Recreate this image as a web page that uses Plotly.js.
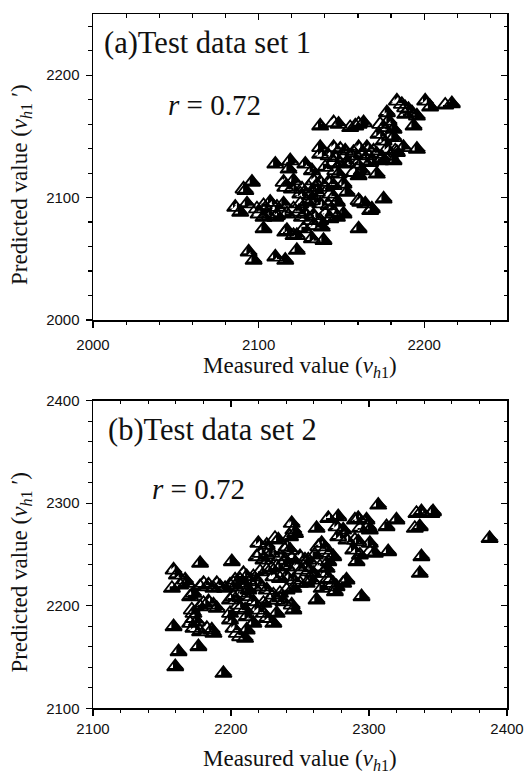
<!DOCTYPE html>
<html><head><meta charset="utf-8">
<script src="https://cdn.plot.ly/plotly-3.0.1.min.js"></script>
<style>html,body{margin:0;padding:0;background:#fff;}#chart{width:528px;height:777px;}</style>
</head><body><div id="chart"></div>
<script>
// ---------- data (a) Test data set 1 ----------
const xA = [2183.5,2186.5,2200.6,2203.6,2212.7,2216.7,
2177.5,2188.5,2190.5,2192.6,2195.6,2188.5,
2137.2,2145.3,2148.3,2155.3,2158.4,2160.4,2163.4,2173.4,2175.5,2178.5,2181.5,2193.6,
2172.4,2179.5,2181.5,2175.5,
2137.2,2145.3,2149.3,2152.3,2157.3,2160.4,2165.4,2169.4,2177.5,2182.5,2187.5,2195.6,2137.2,2142.3,2146.3,2151.3,2156.3,2162.4,2166.4,2171.4,2174.5,2179.5,2183.5,
2110.1,2119.1,2128.2,2145.3,2149.3,2153.3,2159.4,2163.4,2167.4,2173.4,2181.5,
2118.1,2132.2,2140.2,2146.3,2148.3,2157.3,2160.4,2162.4,2171.4,
2096.0,2115.1,2121.1,2133.2,2137.2,2142.3,2145.3,2151.3,2090.9,2116.1,2120.1,2126.2,2130.2,2134.2,2140.2,
2092.0,2125.2,2131.2,2135.2,2143.3,2153.3,2145.3,2160.4,2175.5,
2085.9,2093.0,2099.0,2103.0,2107.0,2111.1,2115.1,2121.1,2125.2,2129.2,2132.2,2137.2,2142.3,2147.3,2161.4,2164.4,2088.9,2100.0,2105.0,2111.1,2117.1,2124.1,2128.2,2133.2,2140.2,2145.3,2168.4,2167.4,
2103.0,2110.1,2126.2,2131.2,2137.2,2143.3,2147.3,2151.3,2103.0,2117.1,2123.1,2127.2,2133.2,2138.2,2160.4,
2116.1,2121.1,2132.2,2139.2,2123.1,2094.0,2097.0,2110.1,2116.1];
const yA = [2178.9,2176.2,2178.9,2174.0,2175.6,2176.7,
2169.4,2173.4,2172.1,2169.4,2166.7,2168.0,
2158.5,2161.2,2159.9,2157.2,2158.5,2159.9,2161.2,2159.9,2157.2,2162.6,2155.8,2158.5,
2151.8,2150.4,2149.1,2146.3,
2140.9,2140.9,2139.6,2138.2,2136.9,2140.9,2140.9,2138.2,2139.6,2138.2,2140.9,2139.6,2135.5,2134.1,2132.8,2132.8,2134.1,2135.5,2134.1,2135.5,2132.8,2134.1,2136.9,
2127.4,2130.1,2127.4,2128.7,2127.4,2128.7,2127.4,2130.1,2128.7,2130.1,2130.1,
2123.3,2122.0,2124.7,2122.0,2119.2,2120.6,2117.9,2122.0,2119.2,
2112.5,2112.5,2113.8,2113.8,2112.5,2112.5,2109.8,2111.1,2107.0,2108.4,2107.0,2107.0,2108.4,2108.4,2108.4,
2105.7,2103.0,2101.6,2104.3,2103.0,2104.3,2100.3,2097.6,2098.9,
2092.1,2094.9,2090.8,2093.5,2096.2,2092.1,2094.9,2090.8,2094.9,2096.2,2097.6,2094.9,2093.5,2096.2,2096.2,2094.9,2088.1,2086.7,2086.7,2085.4,2086.7,2088.1,2086.7,2085.4,2086.7,2088.1,2090.8,2089.4,
2084.0,2084.0,2084.0,2081.3,2081.3,2082.7,2084.0,2086.7,2074.5,2073.2,2069.1,2074.5,2077.2,2075.9,2074.5,
2071.8,2069.1,2066.4,2065.0,2056.9,2055.6,2048.8,2051.5,2048.8];

// ---------- data (b) Test data set 2 ----------
const xB = [2306.7,2334.4,2338.0,2346.4,2345.2,2333.2,2336.8,2338.0,2336.8,2387.4,
2319.9,2312.7,2313.9,2270.5,2277.7,2289.8,2292.2,2298.2,2299.4,2293.4,
2300.6,2281.3,2276.5,2262.0,2244.0,2245.2,2246.4,2242.8,2277.7,2283.7,
2289.8,2292.2,2300.6,2300.6,2304.2,2288.6,2293.4,2291.0,2265.7,2263.3,
2268.1,2271.7,2274.1,2270.5,2260.8,2256.0,2254.8,2264.5,2269.3,2266.9,
2270.5,2274.1,2281.3,2275.3,2294.6,2262.0,2265.7,2271.7,2276.5,2283.7,
2219.8,2225.9,2231.9,2234.3,2240.3,2239.1,2242.8,2221.1,2218.6,2223.5,
2225.9,2229.5,2235.5,2239.1,2244.0,2250.0,2253.6,2247.6,2251.2,2256.0,
2259.6,2240.3,2236.7,2233.1,2229.5,2225.9,2221.1,2216.2,2230.7,2235.5,
2240.3,2245.2,2250.0,2254.8,2258.4,2245.2,2240.3,2235.5,2230.7,2225.9,
2222.3,2218.6,2216.2,2212.6,2207.8,2203.0,2201.8,2206.6,2211.4,2216.2,
2223.5,2228.3,2233.1,2237.9,2244.0,2245.2,2218.6,2223.5,2225.9,2230.7,
2233.1,2216.2,
2158.4,2160.8,2166.8,2168.0,2177.6,2200.6,2157.2,2163.2,2170.4,2172.8,
2177.6,2180.1,2183.7,2187.3,2189.7,2192.1,2195.7,2199.3,2203.0,2206.6,
2209.0,2211.4,2212.6,2209.0,2177.6,2180.1,2183.7,2187.3,2189.7,2199.3,
2201.8,2205.4,2206.6,2210.2,2211.4,2199.3,2199.3,2201.8,2204.2,2206.6,
2210.2,2211.4,2171.6,2172.8,2172.8,2175.2,2170.4,2172.8,2177.6,2182.5,
2186.1,2187.3,2158.4,2162.0,2159.6,2176.4,2194.5];
const yB = [2298.2,2290.1,2291.7,2291.7,2290.1,2275.5,2277.1,2247.9,2231.6,2265.7,
2283.6,2277.1,2252.7,2285.2,2286.9,2283.6,2285.2,2283.6,2277.1,2275.5,
2273.9,2273.9,2277.1,2275.5,2280.4,2273.9,2270.6,2267.4,2267.4,2264.1,
2264.1,2262.5,2260.9,2252.7,2251.1,2254.4,2249.5,2243.0,2260.9,2257.6,
2254.4,2251.1,2247.9,2243.0,2249.5,2244.6,2238.1,2238.1,2236.5,2231.6,
2226.7,2221.9,2221.9,2213.7,2208.9,2205.6,2217.0,2225.1,2218.6,2225.1,
2260.9,2259.2,2265.7,2264.1,2257.6,2254.4,2254.4,2251.1,2247.9,2244.6,
2249.5,2251.1,2247.9,2244.6,2246.2,2247.9,2244.6,2238.1,2234.9,2233.2,
2231.6,2238.1,2239.7,2238.1,2236.5,2234.9,2233.2,2228.4,2228.4,2226.7,
2228.4,2225.1,2221.9,2221.9,2225.1,2217.0,2215.4,2212.1,2210.5,2215.4,
2218.6,2223.5,2218.6,2215.4,2220.2,2225.1,2221.9,2212.1,2208.9,2204.0,
2202.4,2205.6,2205.6,2204.0,2200.7,2195.9,2195.9,2192.6,2187.7,2182.9,
2192.6,2182.9,
2234.9,2230.0,2225.1,2221.9,2241.4,2243.0,2217.0,2220.2,2208.9,2212.1,
2218.6,2221.9,2220.2,2217.0,2221.9,2218.6,2217.0,2220.2,2218.6,2225.1,
2231.6,2228.4,2225.1,2221.9,2199.1,2202.4,2204.0,2200.7,2197.5,2205.6,
2208.9,2200.7,2197.5,2195.9,2189.4,2192.6,2186.1,2178.0,2173.1,2169.9,
2168.2,2176.4,2195.9,2192.6,2187.7,2184.5,2182.9,2178.0,2174.7,2178.0,
2176.4,2173.1,2179.6,2155.2,2140.6,2160.1,2134.1];

// ---------- axes ticks / texts ----------
const ticksA = [2000, 2100, 2200];
const ticksB = [2100, 2200, 2300, 2400];
const rangeA = [2000, 2250];
const rangeB = [2100, 2400];
const minorStep = 20;
const panelTitles = ['(a)Test data set 1', '(b)Test data set 2'];
const rText = '<i>r</i> = 0.72';
const xTitle = 'Measured value (<i>v</i><sub><i>h</i>1</sub>)';
const yTitle = 'Predicted value (<i>v</i><sub><i>h</i>1</sub> \u2032)';

// ---------- geometry / style ----------
const W = 528, H = 777;
const xDom = [93 / W, 507 / W];
const yDomA = [1 - 320 / H, 1 - 14 / H];
const yDomB = [1 - 708.3 / H, 1 - 400.7 / H];
const S = 14.4, R = S / 2;      // triangle marker
const LW = 11.4;                // white left-half cover (triangle-se)
const LB = 8.2;                 // black right-half re-fill (triangle-sw)
const serif = 'Liberation Serif, Times New Roman, serif';
const sans = 'Liberation Sans, Arial, sans-serif';

function shiftX(range, dom, dxPx) {
  const u = (range[1] - range[0]) / ((dom[1] - dom[0]) * W);
  return [range[0] - dxPx * u, range[1] - dxPx * u];
}
function shiftY(range, dom, dyDownPx) {
  const u = (range[1] - range[0]) / ((dom[1] - dom[0]) * H);
  return [range[0] + dyDownPx * u, range[1] + dyDownPx * u];
}

// layer order = subplot order: fill (main) -> white left half -> outline -> black re-fill
function layers(x, y, ax) {
  const base = {type: 'scatter', mode: 'markers', x: x, y: y, hoverinfo: 'skip', showlegend: false, cliponaxis: false};
  return [
    Object.assign({}, base, {xaxis: ax.m[0], yaxis: ax.m[1], marker: {symbol: 'triangle-up', size: S, color: '#000', line: {width: 0}}}),
    Object.assign({}, base, {xaxis: ax.w[0], yaxis: ax.w[1], marker: {symbol: 'triangle-se', size: LW, color: '#fff', line: {width: 0}}}),
    Object.assign({}, base, {xaxis: ax.o[0], yaxis: ax.o[1], marker: {symbol: 'triangle-up-open', size: S, color: '#000', line: {width: 1.8, color: '#000'}}}),
    Object.assign({}, base, {xaxis: ax.b[0], yaxis: ax.b[1], marker: {symbol: 'triangle-sw', size: LB, color: '#000', line: {width: 0}}})
  ];
}

const data = [].concat(
  layers(xA, yA, {m: ['x', 'y'], w: ['x2', 'y2'], o: ['x3', 'y3'], b: ['x4', 'y4']}),
  layers(xB, yB, {m: ['x5', 'y5'], w: ['x6', 'y6'], o: ['x7', 'y7'], b: ['x8', 'y8']})
);

function mainAxis(range, ticks, dom, anchor, standoff) {
  return {
    domain: dom, anchor: anchor, range: range, autorange: false,
    tickmode: 'linear', tick0: ticks[0], dtick: ticks[1] - ticks[0],
    ticks: 'outside', ticklen: 6, tickwidth: 1.2, tickcolor: '#000',
    showline: true, linewidth: 1.5, linecolor: '#000', mirror: true,
    showgrid: false, zeroline: false,
    tickfont: {family: sans, size: 15, color: '#111'},
    ticklabelstandoff: standoff,
    minor: {tickmode: 'linear', tick0: ticks[0], dtick: minorStep, ticks: 'outside', ticklen: 3.5, tickwidth: 1.2, tickcolor: '#000', showgrid: false}
  };
}
// mirror axes: same range, inward ticks on top / right, also carry the outline layer
function mirrorAxis(range, ticks, over, anchor, side) {
  return {
    overlaying: over, anchor: anchor, side: side, range: range, autorange: false,
    tickmode: 'linear', tick0: ticks[0], dtick: ticks[1] - ticks[0],
    ticks: 'inside', ticklen: 6, tickwidth: 1.2, tickcolor: '#000',
    showticklabels: false, showline: false, showgrid: false, zeroline: false,
    minor: {tickmode: 'linear', tick0: ticks[0], dtick: minorStep, ticks: 'inside', ticklen: 3.5, tickwidth: 1.2, tickcolor: '#000', showgrid: false}
  };
}
function hidden(range, over, anchor) {
  return {overlaying: over, anchor: anchor, range: range, autorange: false, visible: false, showgrid: false, zeroline: false};
}

const layout = {
  width: W, height: H, margin: {l: 0, r: 0, t: 0, b: 0},
  paper_bgcolor: '#fff', plot_bgcolor: 'rgba(0,0,0,0)',
  hovermode: false, showlegend: false,
  font: {family: sans, color: '#111'},
  xaxis: mainAxis(rangeA, ticksA, xDom, 'y', 4),
  yaxis: mainAxis(rangeA, ticksA, yDomA, 'x', 3),
  xaxis2: hidden(shiftX(rangeA, xDom, -LW / 2), 'x', 'y2'),
  yaxis2: hidden(shiftY(rangeA, yDomA, R / 2 - LW / 2), 'y', 'x2'),
  xaxis3: mirrorAxis(rangeA, ticksA, 'x', 'y3', 'top'),
  yaxis3: mirrorAxis(rangeA, ticksA, 'y', 'x3', 'right'),
  xaxis4: hidden(shiftX(rangeA, xDom, LB / 2), 'x', 'y4'),
  yaxis4: hidden(shiftY(rangeA, yDomA, R / 2 - LB / 2), 'y', 'x4'),
  xaxis5: mainAxis(rangeB, ticksB, xDom, 'y5', 0),
  yaxis5: mainAxis(rangeB, ticksB, yDomB, 'x5', 3),
  xaxis6: hidden(shiftX(rangeB, xDom, -LW / 2), 'x5', 'y6'),
  yaxis6: hidden(shiftY(rangeB, yDomB, R / 2 - LW / 2), 'y5', 'x6'),
  xaxis7: mirrorAxis(rangeB, ticksB, 'x5', 'y7', 'top'),
  yaxis7: mirrorAxis(rangeB, ticksB, 'y5', 'x7', 'right'),
  xaxis8: hidden(shiftX(rangeB, xDom, LB / 2), 'x5', 'y8'),
  yaxis8: hidden(shiftY(rangeB, yDomB, R / 2 - LB / 2), 'y5', 'x8'),
  annotations: [
    {text: panelTitles[0], x: 102 / W, y: 1 - 43.3 / H, xanchor: 'left', yanchor: 'middle', fs: 30.5},
    {text: rText, x: 166 / W, y: 1 - 105.3 / H, xanchor: 'left', yanchor: 'middle'},
    {text: panelTitles[1], x: 106 / W, y: 1 - 430.3 / H, xanchor: 'left', yanchor: 'middle', fs: 30.5},
    {text: rText, x: 150 / W, y: 1 - 489.3 / H, xanchor: 'left', yanchor: 'middle'},
    {text: xTitle, x: 300 / W, y: 1 - 366.5 / H, xanchor: 'center', yanchor: 'middle', fs: 23},
    {text: xTitle, x: 300 / W, y: 1 - 759.6 / H, xanchor: 'center', yanchor: 'middle', fs: 23},
    {text: yTitle, x: 21 / W, y: 1 - 185 / H, xanchor: 'center', yanchor: 'middle', fs: 23, textangle: -90},
    {text: yTitle, x: 21 / W, y: 1 - 572.6 / H, xanchor: 'center', yanchor: 'middle', fs: 23, textangle: -90}
  ].map(a => {
    const o = Object.assign({xref: 'paper', yref: 'paper', showarrow: false}, a);
    o.font = {family: serif, size: a.fs || 29, color: '#111'};
    delete o.fs;
    return o;
  })
};

Plotly.newPlot('chart', data, layout, {staticPlot: true, displayModeBar: false});
</script>
</body></html>
